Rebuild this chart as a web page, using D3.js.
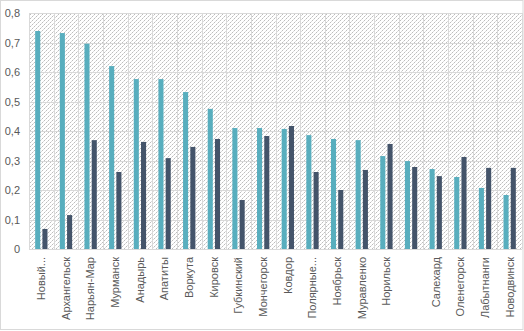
<!DOCTYPE html>
<html>
<head>
<meta charset="utf-8">
<script src="https://cdn.jsdelivr.net/npm/d3@7"></script>
<style>
  html, body { margin: 0; padding: 0; background: #fff; }
  svg { display: block; }
</style>
</head>
<body>
<svg id="chart" width="524" height="331"></svg>
<script>
const categories = ["Новый...", "Архангельск", "Нарьян-Мар", "Мурманск", "Анадырь", "Апатиты", "Воркута", "Кировск", "Губкинский", "Мончегорск", "Ковдор", "Полярные...", "Ноябрьск", "Муравленко", "Норильск", "", "Салехард", "Оленегорск", "Лабытнанги", "Новодвинск"];
const seriesA = [0.739, 0.732, 0.696, 0.620, 0.576, 0.576, 0.532, 0.475, 0.410, 0.410, 0.407, 0.386, 0.373, 0.369, 0.315, 0.298, 0.271, 0.244, 0.207, 0.183];
const seriesB = [0.068, 0.115, 0.369, 0.261, 0.363, 0.308, 0.346, 0.373, 0.166, 0.383, 0.417, 0.261, 0.200, 0.268, 0.356, 0.278, 0.247, 0.312, 0.275, 0.275];
const yTicks = [0, 0.1, 0.2, 0.3, 0.4, 0.5, 0.6, 0.7, 0.8];
const seriesNames = ["A", "B"];
const seriesColors = ["#58aebe", "#44546a"];

const svg = d3.select("#chart");
const W = 524, H = 331;
const m = { left: 29, right: 2, top: 13, bottom: 82 };
const plotR = W - m.right, plotB = H - m.bottom;

// outer border
svg.append("rect").attr("x", 0.5).attr("y", 0.5).attr("width", W - 1.5).attr("height", H - 2)
  .attr("fill", "#fff").attr("stroke", "#d9d9d9");

// pattern
const defs = svg.append("defs");
const pat = defs.append("pattern").attr("id", "dots").attr("width", 4).attr("height", 4)
  .attr("patternUnits", "userSpaceOnUse");
pat.append("rect").attr("width", 4).attr("height", 4).attr("fill", "#fff");
pat.append("rect").attr("x", 0).attr("y", 0).attr("width", 1).attr("height", 1).attr("fill", "#bdbdbd");
pat.append("rect").attr("x", 2).attr("y", 2).attr("width", 1).attr("height", 1).attr("fill", "#bdbdbd");
pat.append("rect").attr("x", 1).attr("y", 3).attr("width", 1).attr("height", 1).attr("fill", "#dcdcdc");
pat.append("rect").attr("x", 3).attr("y", 1).attr("width", 1).attr("height", 1).attr("fill", "#dcdcdc");

const x = d3.scaleBand().domain(d3.range(categories.length)).range([m.left, plotR])
  .paddingInner(0.5).paddingOuter(0.25);
const xs = d3.scaleBand().domain(seriesNames).range([0, x.bandwidth()]).paddingInner(0.3);
const y = d3.scaleLinear().domain([0, 0.8]).range([plotB, m.top]);

svg.append("rect").attr("x", m.left).attr("y", m.top).attr("width", plotR - m.left)
  .attr("height", plotB - m.top).attr("fill", "url(#dots)");

// horizontal gridlines
svg.append("g").selectAll("line").data(yTicks).join("line")
  .attr("x1", m.left).attr("x2", plotR)
  .attr("y1", d => Math.round(y(d)) + 0.5).attr("y2", d => Math.round(y(d)) + 0.5)
  .attr("stroke", "#d9d9d9").attr("stroke-width", 1);

// vertical gridlines (category boundaries)
const step = x.step();
const bounds = d3.range(categories.length + 1).map(i => m.left + i * step);
svg.append("g").selectAll("line").data(bounds).join("line")
  .attr("x1", d => Math.round(d) + 0.5).attr("x2", d => Math.round(d) + 0.5)
  .attr("y1", m.top).attr("y2", plotB)
  .attr("stroke", "#d9d9d9").attr("stroke-width", 1);

// bars
const data = categories.map((c, i) => ({ i, vals: [seriesA[i], seriesB[i]] }));
const groups = svg.append("g").selectAll("g").data(data).join("g")
  .attr("transform", d => `translate(${x(d.i)},0)`);
groups.selectAll("rect").data(d => d.vals.map((v, k) => ({ v, k }))).join("rect")
  .attr("x", d => xs(seriesNames[d.k]))
  .attr("width", xs.bandwidth())
  .attr("y", d => y(d.v))
  .attr("height", d => y(0) - y(d.v))
  .attr("fill", d => seriesColors[d.k]);

// y axis labels
const yAxis = d3.axisLeft(y).tickValues(yTicks).tickSize(0).tickPadding(0)
  .tickFormat(d => d === 0 ? "0" : d3.format(".1f")(d).replace(".", ","));
const ga = svg.append("g").attr("transform", `translate(20,0)`).call(yAxis);
ga.select(".domain").remove();
ga.selectAll("text").attr("font-family", "Liberation Sans, Arial, sans-serif")
  .attr("font-size", 11).attr("fill", "#595959");

// x axis labels
const xAxis = d3.axisBottom(x).tickSize(0).tickPadding(0).tickFormat(i => categories[i]);
const gx = svg.append("g").attr("transform", `translate(0,${plotB + 8})`).call(xAxis);
gx.select(".domain").remove();
gx.selectAll("text")
  .attr("font-family", "Liberation Sans, Arial, sans-serif")
  .attr("font-size", 11).attr("fill", "#595959")
  .attr("transform", "rotate(-90)")
  .attr("text-anchor", "end")
  .attr("x", 0).attr("y", 0).attr("dy", "0.35em");
</script>
</body>
</html>
